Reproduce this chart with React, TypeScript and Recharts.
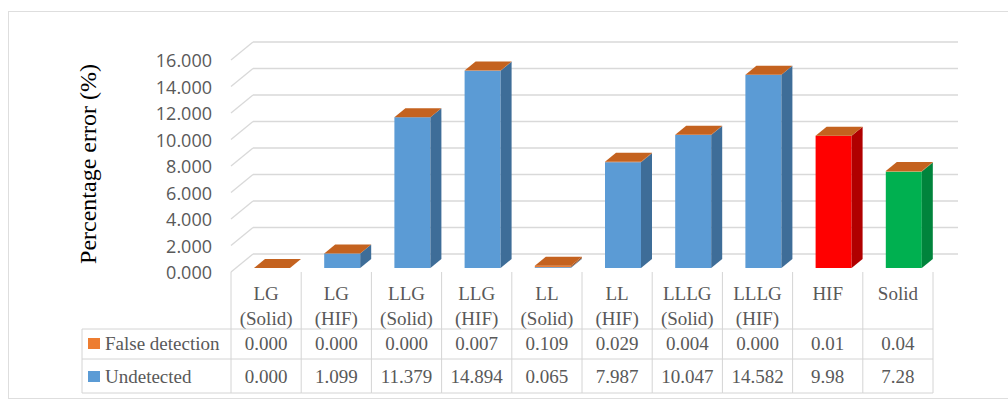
import React from 'react';
import { BarChart, Bar, XAxis, YAxis, CartesianGrid } from 'recharts';

// table / axis data
const categories = [
  'LG (Solid)', 'LG (HIF)', 'LLG (Solid)', 'LLG (HIF)', 'LL (Solid)',
  'LL (HIF)', 'LLLG (Solid)', 'LLLG (HIF)', 'HIF', 'Solid',
];
const undetectedText = ['0.000', '1.099', '11.379', '14.894', '0.065', '7.987', '10.047', '14.582', '9.98', '7.28'];
const falseDetectionText = ['0.000', '0.000', '0.000', '0.007', '0.109', '0.029', '0.004', '0.000', '0.01', '0.04'];
const yTicks = [0, 2, 4, 6, 8, 10, 12, 14, 16];

const seriesNames = ['False detection', 'Undetected'];
const seriesColors = ['#ED7D31', '#5B9BD5'];

const frontColors = ['#5B9BD5', '#5B9BD5', '#5B9BD5', '#5B9BD5', '#5B9BD5', '#5B9BD5', '#5B9BD5', '#5B9BD5', '#FF0000', '#00B050'];
const sideColors = ['#3E6D98', '#3E6D98', '#3E6D98', '#3E6D98', '#3E6D98', '#3E6D98', '#3E6D98', '#3E6D98', '#B00000', '#00843C'];

const data = categories.map((name, i) => ({
  name,
  undetected: Number(undetectedText[i]),
  falseDetection: Number(falseDetectionText[i]),
}));

// layout
const W = 1008;
const H = 405;
const PLOT_LEFT = 231;
const PLOT_RIGHT = 933;
const PLOT_TOP = 56;
const PLOT_BOTTOM = 268;
const BAND = (PLOT_RIGHT - PLOT_LEFT) / categories.length;

const DEPTH_X = 11; // bar depth
const DEPTH_Y = 9;
const BAR_SHIFT = 6;

const GRID_COLOR = '#d9d9d9';
const LINE_COLOR = '#d4d4d4';
const TEXT_COLOR = '#595959';
const SERIF = '"Liberation Serif", "Times New Roman", serif';
const SANS = '"Open Sans", "Liberation Sans", sans-serif';

const HEADER_TOP = PLOT_BOTTOM + 4;
const ROW1 = PLOT_BOTTOM + 61;
const ROW2 = PLOT_BOTTOM + 91;
const TABLE_BOTTOM = PLOT_BOTTOM + 125;
const LEGEND_LEFT = 82;

const idxOf = (props: any) => categories.indexOf(props.payload?.name);

const UndetectedShape = (props: any) => {
  const { x, y, width, height } = props;
  const i = idxOf(props);
  if (!height || height <= 0) return <g />;
  const fx = x + BAR_SHIFT;
  return (
    <g>
      <rect x={fx} y={y} width={width} height={height} fill={frontColors[i]} />
      <polygon
        points={`${fx + width},${y} ${fx + width + DEPTH_X},${y - DEPTH_Y} ${fx + width + DEPTH_X},${y + height - DEPTH_Y} ${fx + width},${y + height}`}
        fill={sideColors[i]}
      />
    </g>
  );
};

const FalseShape = (props: any) => {
  const { x, y, width } = props;
  const height = Math.max(0, props.height || 0);
  const fx = x + BAR_SHIFT;
  return (
    <g>
      {height > 0 && <rect x={fx} y={y} width={width} height={height} fill="#ED7D31" />}
      {height > 0 && (
        <polygon
          points={`${fx + width},${y} ${fx + width + DEPTH_X},${y - DEPTH_Y} ${fx + width + DEPTH_X},${y + height - DEPTH_Y} ${fx + width},${y + height}`}
          fill="#A9521A"
        />
      )}
      <polygon
        points={`${fx},${y} ${fx + DEPTH_X},${y - DEPTH_Y} ${fx + width + DEPTH_X},${y - DEPTH_Y} ${fx + width},${y}`}
        fill="#C4621F"
      />
    </g>
  );
};

const GridLine = (p: any) => {
  const { x1, y1 } = p;
  const backY = y1 - 14;
  return (
    <g key={`g-${y1}`}>
      <line x1={x1 + 22} y1={backY} x2={PLOT_RIGHT + 25} y2={backY} stroke={GRID_COLOR} strokeWidth={1.6} />
      <line x1={x1} y1={y1 + 4} x2={x1 + 22} y2={backY} stroke={GRID_COLOR} strokeWidth={1.3} />
    </g>
  );
};

const YTick = (props: any) => {
  const { y, payload } = props;
  return (
    <text x={212} y={y + 4} textAnchor="end" dominantBaseline="central" fill={TEXT_COLOR} fontSize={18} fontFamily={SANS}>
      {Number(payload.value).toFixed(3)}
    </text>
  );
};

const AxisTitle = (props: any) => {
  const vb = props.viewBox || {};
  const cy = vb.height ? vb.y + vb.height / 2 : (PLOT_TOP + PLOT_BOTTOM) / 2;
  return (
    <text
      x={88}
      y={cy + 2}
      transform={`rotate(-90, 88, ${cy + 2})`}
      textAnchor="middle"
      dominantBaseline="central"
      fill="#000"
      fontSize={24}
      fontFamily={SERIF}
    >
      Percentage error (%)
    </text>
  );
};

const cellText = (x: number, y: number, s: string) => (
  <text x={x} y={y} textAnchor="middle" dominantBaseline="central" fill={TEXT_COLOR} fontSize={19} fontFamily={SERIF}>
    {s}
  </text>
);

const TableColumn = (props: any) => {
  const { x, payload } = props;
  const i = categories.indexOf(payload.value);
  const left = x - BAND / 2;
  const right = x + BAND / 2;
  const space = categories[i].indexOf(' ');
  const line1 = space < 0 ? categories[i] : categories[i].slice(0, space);
  const line2 = space < 0 ? '' : categories[i].slice(space + 1);
  const last = i === categories.length - 1;
  return (
    <g>
      <line x1={left} y1={HEADER_TOP} x2={left} y2={TABLE_BOTTOM} stroke={LINE_COLOR} />
      {last && <line x1={right} y1={HEADER_TOP} x2={right} y2={TABLE_BOTTOM} stroke={LINE_COLOR} />}
      <line x1={left} y1={ROW1} x2={right} y2={ROW1} stroke={LINE_COLOR} />
      <line x1={left} y1={ROW2} x2={right} y2={ROW2} stroke={LINE_COLOR} />
      <line x1={left} y1={TABLE_BOTTOM} x2={right} y2={TABLE_BOTTOM} stroke={LINE_COLOR} />
      {cellText(x, PLOT_BOTTOM + 25, line1)}
      {line2 && cellText(x, PLOT_BOTTOM + 50, line2)}
      {cellText(x, PLOT_BOTTOM + 75, falseDetectionText[i])}
      {cellText(x, PLOT_BOTTOM + 108, undetectedText[i])}
      {i === 0 && (
        <g>
          <line x1={LEGEND_LEFT} y1={ROW1} x2={left} y2={ROW1} stroke={LINE_COLOR} />
          <line x1={LEGEND_LEFT} y1={ROW2} x2={left} y2={ROW2} stroke={LINE_COLOR} />
          <line x1={LEGEND_LEFT} y1={TABLE_BOTTOM} x2={left} y2={TABLE_BOTTOM} stroke={LINE_COLOR} />
          <line x1={LEGEND_LEFT} y1={ROW1} x2={LEGEND_LEFT} y2={TABLE_BOTTOM} stroke={LINE_COLOR} />
          {seriesNames.map((name, k) => {
            const cy = k === 0 ? PLOT_BOTTOM + 75 : PLOT_BOTTOM + 108;
            return (
              <g key={name}>
                <rect x={LEGEND_LEFT + 6} y={cy - 5} width={12} height={11} fill={seriesColors[k]} />
                <text x={LEGEND_LEFT + 23} y={cy} dominantBaseline="central" fill={TEXT_COLOR} fontSize={19} fontFamily={SERIF}>
                  {name}
                </text>
              </g>
            );
          })}
        </g>
      )}
    </g>
  );
};

export default function App() {
  return (
    <div style={{ position: 'fixed', left: 0, top: 0, width: W, height: H, background: '#fff' }}>
      <div
        style={{
          position: 'absolute',
          left: 8,
          top: 11,
          width: W - 8,
          height: 388,
          borderTop: '1.5px solid #dedede',
          borderLeft: '1.5px solid #dedede',
          borderBottom: '1.5px solid #dedede',
          boxSizing: 'border-box',
        }}
      />
      <div style={{ position: 'absolute', left: 0, top: 0 }}>
        <BarChart
          width={W}
          height={H}
          data={data}
          margin={{ top: PLOT_TOP, right: W - PLOT_RIGHT, bottom: 0, left: 0 }}
          barSize={36}
        >
          <CartesianGrid vertical={false} horizontal={GridLine} />
          <XAxis
            dataKey="name"
            interval={0}
            height={H - PLOT_BOTTOM}
            axisLine={false}
            tickLine={false}
            tick={TableColumn}
          />
          <YAxis
            width={PLOT_LEFT}
            domain={[0, 16]}
            ticks={yTicks}
            axisLine={false}
            tickLine={false}
            tick={YTick}
            label={AxisTitle}
          />
          <Bar dataKey="undetected" stackId="a" isAnimationActive={false} shape={UndetectedShape} />
          <Bar dataKey="falseDetection" stackId="a" isAnimationActive={false} shape={FalseShape} />
        </BarChart>
      </div>
    </div>
  );
}
